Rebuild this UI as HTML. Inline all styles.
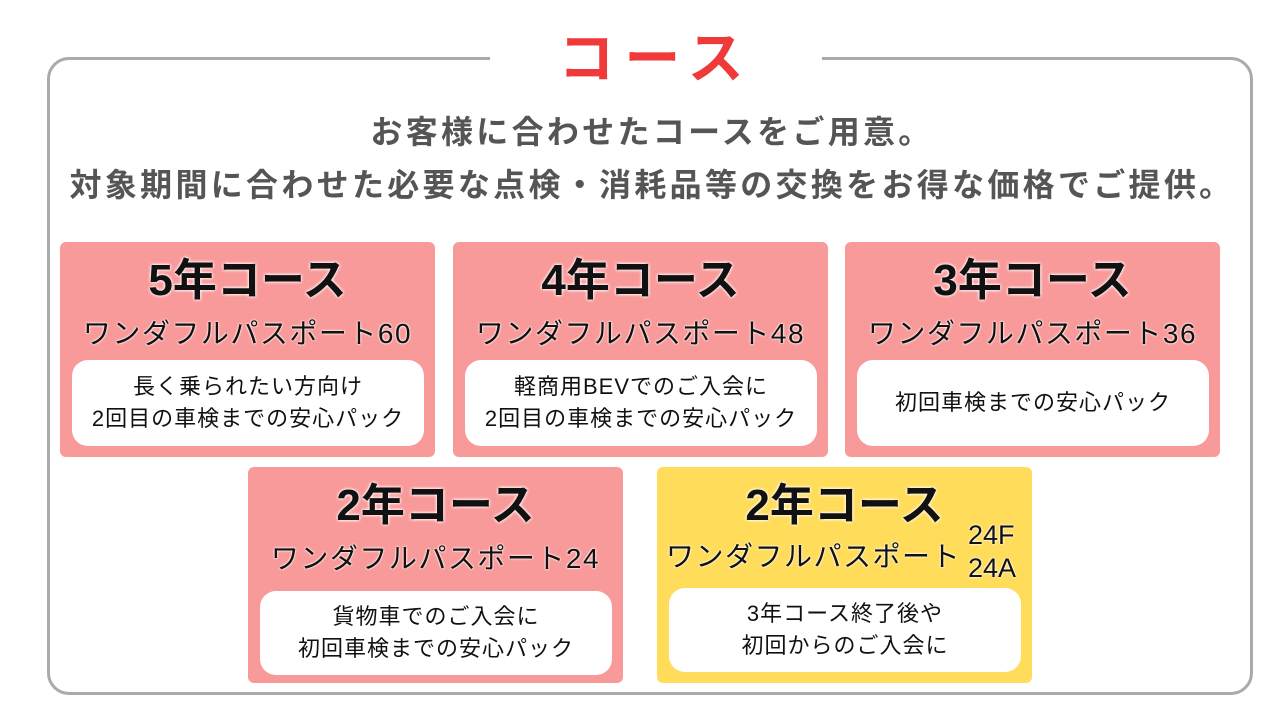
<!DOCTYPE html>
<html><head><meta charset="utf-8"><style>
*{margin:0;padding:0;box-sizing:border-box}
body{width:1280px;height:720px;background:#fff;position:relative;overflow:hidden;font-family:"Liberation Sans","Noto Sans CJK JP",sans-serif}
.frame{position:absolute;left:47px;top:57px;width:1206px;height:638px;border:3px solid #aaa;border-radius:22px}
.gap{position:absolute;left:490px;top:50px;width:332px;height:14px;background:#fff}
.title{position:absolute;left:10px;width:1292px;top:14px;text-align:center;font-size:56px;font-weight:bold;color:#f03a3a;letter-spacing:10px}
.sub{position:absolute;left:0;width:1304px;text-align:center;font-size:32px;color:#555;font-weight:bold;letter-spacing:3.3px;white-space:nowrap}
.card{position:absolute;width:375px;height:215px;background:#f99a9a;border-radius:6px}
.y{background:#ffdc5a}
.h{position:absolute;left:0;width:100%;top:2px;text-align:center;font-size:44px;font-weight:bold;color:#111;text-shadow:0 0 3px #fff,0 0 3px #fff}
.p{position:absolute;left:0;width:100%;top:70px;text-align:center;font-size:28px;letter-spacing:1.5px;color:#111;text-shadow:0 0 2px #fff,0 0 2px #fff;white-space:nowrap}
.in{position:absolute;left:12px;width:352px;top:118px;height:86px;background:#fff;border-radius:16px;display:flex;align-items:center;justify-content:center;text-align:center;font-size:22px;letter-spacing:1px;line-height:32px;color:#111;white-space:nowrap}
</style></head><body>
<div class="frame"></div>
<div class="gap"></div>
<div class="title">コース</div>
<div class="sub" style="top:107px">お客様に合わせたコースをご用意。</div>
<div class="sub" style="top:160px">対象期間に合わせた必要な点検・消耗品等の交換をお得な価格でご提供。</div>

<div class="card" style="left:60px;top:242px"><div class="h">5年コース</div><div class="p">ワンダフルパスポート60</div><div class="in">長く乗られたい方向け<br>2回目の車検までの安心パック</div></div>
<div class="card" style="left:453px;top:242px"><div class="h">4年コース</div><div class="p">ワンダフルパスポート48</div><div class="in">軽商用BEVでのご入会に<br>2回目の車検までの安心パック</div></div>
<div class="card" style="left:845px;top:242px"><div class="h">3年コース</div><div class="p">ワンダフルパスポート36</div><div class="in">初回車検までの安心パック</div></div>
<div class="card" style="left:248px;top:467px;height:216px"><div class="h">2年コース</div><div class="p">ワンダフルパスポート24</div><div class="in" style="top:124px;height:84px">貨物車でのご入会に<br>初回車検までの安心パック</div></div>
<div class="card y" style="left:657px;top:467px;height:216px"><div class="h">2年コース</div>
<div class="p" style="left:9px;width:auto;top:68px">ワンダフルパスポート</div>
<div class="p" style="left:311px;width:auto;top:52px;line-height:33px;font-size:27px;letter-spacing:0;text-align:left">24F<br>24A</div>
<div class="in" style="top:121px;height:84px">3年コース終了後や<br>初回からのご入会に</div></div>
</body></html>
